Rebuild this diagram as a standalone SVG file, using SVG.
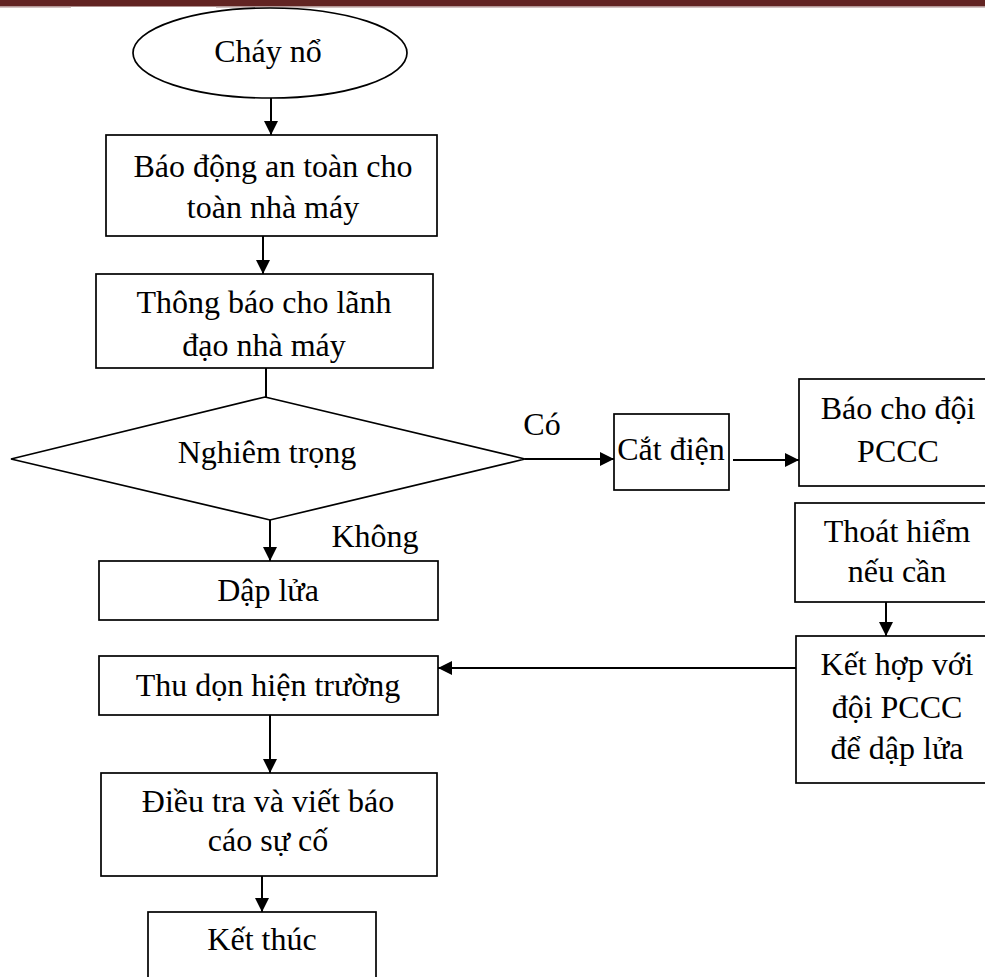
<svg xmlns="http://www.w3.org/2000/svg" width="985" height="977" viewBox="0 0 985 977">
  <style>
    .box { fill: #ffffff; stroke: #000000; stroke-width: 1.7; }
    .lbl { font-family: "Liberation Serif", "Times New Roman", serif; font-size: 32px; fill: #000000; text-anchor: middle; }
    .edge { fill: none; stroke: #000000; stroke-width: 2; }
  </style>
  <defs>
    <marker id="arrow" markerUnits="userSpaceOnUse" markerWidth="14" markerHeight="14" refX="14" refY="7" orient="auto">
      <path d="M0,0 L14,7 L0,14 Z" fill="#000000"/>
    </marker>
  </defs>

  <!-- page header rule -->
  <rect x="0" y="0" width="985" height="6.5" fill="#622423"/>
  <line x1="0" y1="7.3" x2="71" y2="7.3" stroke="#c8b4b4" stroke-width="1"/>
  <line x1="216" y1="7.3" x2="985" y2="7.3" stroke="#c8b4b4" stroke-width="1"/>

  <!-- connectors -->
  <g id="connectors">
    <line class="edge" x1="271" y1="98" x2="271" y2="135" marker-end="url(#arrow)"/>
    <line class="edge" x1="263" y1="236" x2="263" y2="274" marker-end="url(#arrow)"/>
    <line class="edge" x1="266" y1="368" x2="266" y2="397"/>
    <line class="edge" x1="270" y1="520" x2="270" y2="561" marker-end="url(#arrow)"/>
    <line class="edge" x1="525" y1="459" x2="614" y2="459" marker-end="url(#arrow)"/>
    <line class="edge" x1="733" y1="460" x2="799" y2="460" marker-end="url(#arrow)"/>
    <line class="edge" x1="886" y1="602" x2="886" y2="636" marker-end="url(#arrow)"/>
    <line class="edge" x1="796" y1="668" x2="438" y2="668" marker-end="url(#arrow)"/>
    <line class="edge" x1="270" y1="715" x2="270" y2="773" marker-end="url(#arrow)"/>
    <line class="edge" x1="262" y1="876" x2="262" y2="912" marker-end="url(#arrow)"/>
    <text class="lbl" x="542" y="435">Có</text>
    <text class="lbl" x="375" y="547">Không</text>
  </g>

  <g id="start">
    <ellipse class="box" cx="270" cy="53" rx="137" ry="45"/>
    <text class="lbl" x="268" y="62">Cháy nổ</text>
  </g>

  <g id="alarm">
    <rect class="box" x="106" y="135" width="331" height="101"/>
    <text class="lbl" x="273" y="177">Báo động an toàn cho</text>
    <text class="lbl" x="273" y="218">toàn nhà máy</text>
  </g>

  <g id="notify">
    <rect class="box" x="96" y="274" width="337" height="94"/>
    <text class="lbl" x="264" y="313">Thông báo cho lãnh</text>
    <text class="lbl" x="264" y="356">đạo nhà máy</text>
  </g>

  <g id="decision">
    <polygon class="box" points="265,397 525,459 270,520 11,459"/>
    <text class="lbl" x="267" y="463">Nghiêm trọng</text>
  </g>

  <g id="cut-power">
    <rect class="box" x="614" y="414" width="115" height="76"/>
    <text class="lbl" x="671" y="460">Cắt điện</text>
  </g>

  <g id="call-fire-team">
    <rect class="box" x="799" y="379" width="198" height="107"/>
    <text class="lbl" x="898" y="419">Báo cho đội</text>
    <text class="lbl" x="898" y="462">PCCC</text>
  </g>

  <g id="evacuate">
    <rect class="box" x="795" y="503" width="202" height="99"/>
    <text class="lbl" x="897" y="542">Thoát hiểm</text>
    <text class="lbl" x="897" y="582">nếu cần</text>
  </g>

  <g id="joint-fight">
    <rect class="box" x="796" y="636" width="201" height="147"/>
    <text class="lbl" x="897" y="675">Kết hợp với</text>
    <text class="lbl" x="897" y="718">đội PCCC</text>
    <text class="lbl" x="897" y="759">để dập lửa</text>
  </g>

  <g id="extinguish">
    <rect class="box" x="99" y="561" width="339" height="59"/>
    <text class="lbl" x="268" y="601">Dập lửa</text>
  </g>

  <g id="cleanup">
    <rect class="box" x="99" y="656" width="339" height="59"/>
    <text class="lbl" x="268" y="696">Thu dọn hiện trường</text>
  </g>

  <g id="investigate">
    <rect class="box" x="101" y="773" width="336" height="103"/>
    <text class="lbl" x="268" y="812">Điều tra và viết báo</text>
    <text class="lbl" x="268" y="851">cáo sự cố</text>
  </g>

  <g id="end">
    <rect class="box" x="148" y="912" width="228" height="90"/>
    <text class="lbl" x="262" y="950">Kết thúc</text>
  </g>
</svg>
